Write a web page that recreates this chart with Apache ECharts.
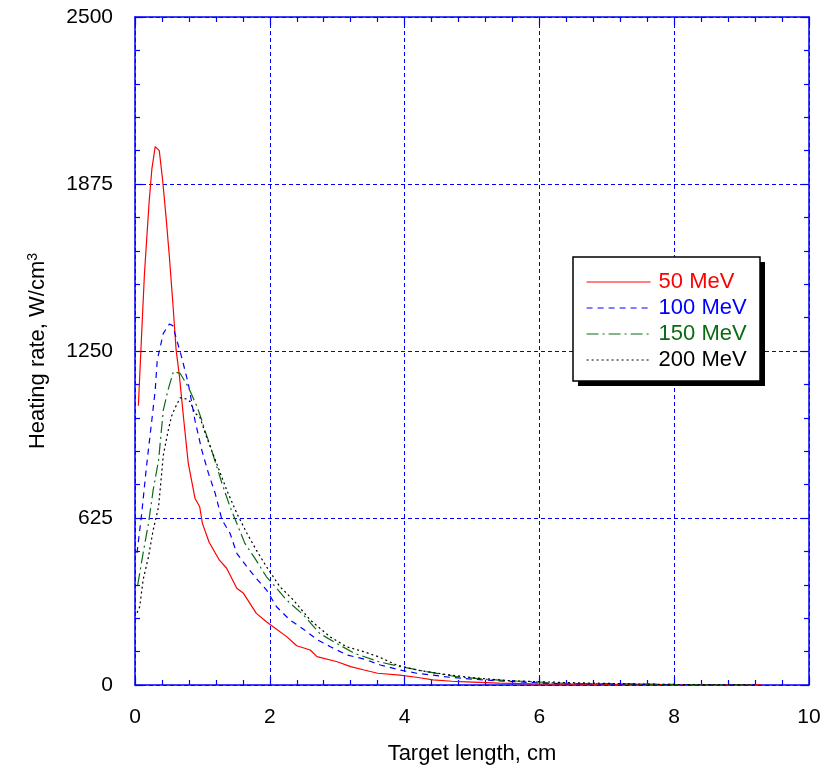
<!DOCTYPE html>
<html>
<head>
<meta charset="utf-8">
<script src="https://cdn.jsdelivr.net/npm/echarts@6/dist/echarts.min.js"></script>
<style>
html,body{margin:0;padding:0;background:#fff;}
#chart{width:836px;height:771px;}
</style>
</head>
<body>
<div id="chart"></div>
<script>
// ---- data ----
const seriesNames = ['50 MeV', '100 MeV', '150 MeV', '200 MeV'];
const xTicks = [0, 2, 4, 6, 8, 10];
const yTicks = [0, 625, 1250, 1875, 2500];

const x50 = [0.05,0.1,0.14,0.21,0.25,0.30,0.36,0.41,0.46,0.51,0.56,0.61,0.66,0.72,0.79,0.89,0.96,1.0,1.1,1.25,1.36,1.51,1.61,1.8,1.95,2.05,2.25,2.4,2.6,2.7,3.0,3.2,3.4,3.6,3.93,4.2,4.42,4.7,4.92,5.4,5.9,6.5,7.0,7.5,8.0,8.5,9.0,9.3];
const y50 = [1045,1322,1538,1809,1931,2015,2000,1890,1753,1603,1435,1254,1154,1000,830,699,667,605,534,468,437,362,343,268,237,218,181,147,131,106,87,69,56,44,37,28,19,14,12,7,4,3,2,2,1,1,1,1];

const x100 = [0.03,0.1,0.17,0.25,0.3,0.33,0.42,0.51,0.56,0.62,0.69,0.79,0.89,0.99,1.09,1.19,1.29,1.41,1.51,1.66,1.78,1.95,2.1,2.3,2.5,2.7,2.9,3.15,3.4,3.64,3.93,4.18,4.67,5.16,5.66,6.16,6.7,7.2,7.7,8.2,8.7,9.2];
const y100 = [494,643,817,992,1104,1216,1316,1351,1345,1291,1229,1129,990,880,792,717,618,568,493,443,405,356,293,243,209,170,143,112,97,75,56,44,29,19,12,6,4,3,2,1,1,1];

const x150 = [0.04,0.12,0.2,0.27,0.35,0.42,0.49,0.57,0.67,0.79,0.92,0.99,1.04,1.11,1.16,1.29,1.41,1.51,1.63,1.78,1.95,2.1,2.25,2.5,2.74,2.99,3.26,3.62,3.93,4.33,4.77,5.22,5.66,6.4,7.0,7.4,8.0,8.6,9.2];
const y150 = [374,493,605,730,842,1029,1104,1173,1166,1116,1042,992,950,900,860,755,667,605,530,474,405,362,318,262,193,156,118,87,69,50,31,21,15,6,5,4,2,1,1];

const x200 = [0.03,0.07,0.12,0.2,0.27,0.35,0.42,0.49,0.54,0.59,0.67,0.77,0.82,0.89,0.96,1.06,1.21,1.36,1.51,1.66,1.8,1.95,2.15,2.35,2.6,2.89,3.14,3.39,3.61,3.88,4.18,4.57,5.02,5.56,6.4,7.0,7.4,8.0,8.6,9.2];
const y200 = [270,293,393,480,580,667,860,950,1004,1035,1075,1070,1060,1017,1004,929,830,730,643,568,505,443,368,318,243,181,143,125,106,75,56,41,27,16,9,6,4,2,1,1];

const colors = ['#ff0000', '#0000ff', '#0b6b12', '#000000'];
const dashTypes = ['solid', [6, 5], [12, 4, 2, 4], [2, 3]];
const xs = [x50, x100, x150, x200];
const ys = [y50, y100, y150, y200];

const FONT = "'Liberation Sans', Arial, sans-serif";
const AX = '#0000ff';

const chart = echarts.init(document.getElementById('chart'), null, {renderer: 'canvas'});

const series = seriesNames.map((name, k) => ({
  name: name,
  type: 'line',
  xAxisIndex: 0,
  yAxisIndex: 0,
  symbol: 'none',
  smooth: false,
  animation: false,
  lineStyle: {color: colors[k], width: 1.2, type: dashTypes[k]},
  itemStyle: {color: colors[k]},
  data: xs[k].map((x, i) => [x, ys[k][i]])
}));

const commonAxis = {
  type: 'value',
  axisLine: {show: true, onZero: false, lineStyle: {color: AX, width: 1.5}},
  axisTick: {show: true, inside: true, length: 8, lineStyle: {color: AX, width: 1.2}},
  minorTick: {show: true, splitNumber: 5, length: 5, lineStyle: {color: AX, width: 1.2}},
};

const plain = v => String(v);

const option = {
  backgroundColor: '#ffffff',
  animation: false,
  grid: {left: 135, right: 27, top: 17, bottom: 86, containLabel: false},
  graphic: [
    {type: 'rect', z: 3, silent: true, shape: {x: 578, y: 262, width: 187, height: 124},
     style: {fill: '#000000'}},
    {type: 'rect', z: 3, silent: true, shape: {x: 573, y: 257, width: 187, height: 124},
     style: {fill: '#ffffff', stroke: '#000000', lineWidth: 1.5}}
  ],
  legend: {
    orient: 'vertical',
    left: 573,
    top: 257,
    z: 5,
    padding: [14, 12, 14, 13],
    itemGap: 4,
    itemWidth: 64,
    itemHeight: 14,
    itemStyle: {opacity: 0},
    lineStyle: {width: 1.2},
    textStyle: {fontFamily: FONT, fontSize: 22, lineHeight: 21, padding: [0, 0, 0, 3]},
    data: seriesNames.map((n, k) => ({name: n, textStyle: {color: colors[k]}}))
  },
  xAxis: [
    Object.assign({}, commonAxis, {
      min: xTicks[0], max: xTicks[xTicks.length - 1], interval: 2,
      position: 'bottom',
      name: 'Target length, cm',
      nameLocation: 'middle',
      nameGap: 58,
      nameMoveOverlap: false,
      nameTextStyle: {fontFamily: FONT, fontSize: 22, color: '#000'},
      axisLabel: {show: true, margin: 22, fontFamily: FONT, fontSize: 21, color: '#000', formatter: plain},
      splitLine: {show: true, lineStyle: {color: AX, type: [4, 3], width: 1}}
    }),
    Object.assign({}, commonAxis, {
      min: xTicks[0], max: xTicks[xTicks.length - 1], interval: 2,
      position: 'top',
      axisLabel: {show: false},
      splitLine: {show: false}
    })
  ],
  yAxis: [
    Object.assign({}, commonAxis, {
      min: yTicks[0], max: yTicks[yTicks.length - 1], interval: 625,
      position: 'left',
      name: 'Heating rate, W/cm{sup|3}',
      nameLocation: 'middle',
      nameGap: 85,
      nameMoveOverlap: false,
      nameRotate: 90,
      nameTextStyle: {fontFamily: FONT, fontSize: 22, color: '#000',
        rich: {sup: {fontFamily: FONT, fontSize: 14, color: '#000', verticalAlign: 'top', padding: [0, 0, 10, 0]}}},
      axisLabel: {show: true, margin: 22, fontFamily: FONT, fontSize: 21, color: '#000', formatter: plain},
      splitLine: {show: true, lineStyle: {color: AX, type: [4, 3], width: 1}}
    }),
    Object.assign({}, commonAxis, {
      min: yTicks[0], max: yTicks[yTicks.length - 1], interval: 625,
      position: 'right',
      axisLabel: {show: false},
      splitLine: {show: false}
    })
  ],
  series: series
};

chart.setOption(option);
</script>
</body>
</html>
